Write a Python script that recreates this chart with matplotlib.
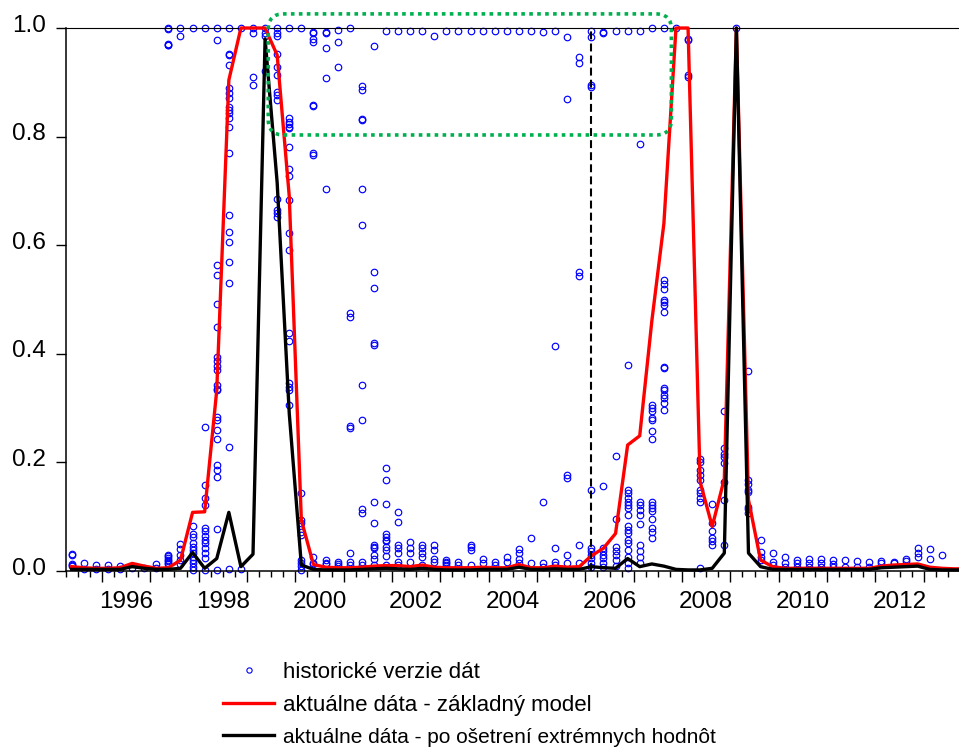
import numpy as np
import pandas as pd
import matplotlib
matplotlib.use('Agg')
import matplotlib.pyplot as plt
import matplotlib.transforms as mtrans
from matplotlib.lines import Line2D
from matplotlib.patches import FancyBboxPatch

plt.rcParams['font.family'] = ['Liberation Sans', 'DejaVu Sans']

# quarterly observations 1995Q2 .. 2013Q4
quarters = pd.period_range('1995Q2', '2013Q4', freq='Q')

# aktualne data - zakladny model
red_vals = [
    0.008, 0.006, 0.005,                      # 1995
    0.005, 0.006, 0.014, 0.009,               # 1996
    0.005, 0.006, 0.020, 0.108,               # 1997
    0.109, 0.333, 0.904, 1.000,               # 1998
    1.000, 1.000, 0.950, 0.690,               # 1999
    0.094, 0.012, 0.007, 0.006,               # 2000
    0.006, 0.007, 0.009, 0.010,               # 2001
    0.010, 0.008, 0.011, 0.007,               # 2002
    0.006, 0.006, 0.006, 0.007,               # 2003
    0.006, 0.006, 0.012, 0.006,               # 2004
    0.006, 0.009, 0.007, 0.008,               # 2005
    0.028, 0.042, 0.069, 0.232,               # 2006
    0.249, 0.460, 0.640, 1.000,               # 2007
    1.000, 0.164, 0.082, 0.170,               # 2008
    1.000, 0.131, 0.020, 0.008,               # 2009
    0.005, 0.005, 0.005, 0.005,               # 2010
    0.005, 0.005, 0.005, 0.005,               # 2011
    0.009, 0.011, 0.012, 0.013,               # 2012
    0.007, 0.005, 0.004, 0.004,               # 2013
]

# aktualne data - po osetreni extremnych hodnot
black_vals = [
    0.003, 0.003, 0.003,
    0.003, 0.003, 0.008, 0.005,
    0.003, 0.003, 0.005, 0.034,
    0.005, 0.023, 0.108, 0.008,
    0.031, 0.980, 0.715, 0.290,
    0.011, 0.003, 0.002, 0.002,
    0.002, 0.003, 0.004, 0.005,
    0.004, 0.003, 0.005, 0.003,
    0.002, 0.002, 0.002, 0.003,
    0.003, 0.003, 0.007, 0.003,
    0.003, 0.004, 0.003, 0.003,
    0.008, 0.006, 0.005, 0.023,
    0.008, 0.013, 0.009, 0.003,
    0.002, 0.002, 0.005, 0.033,
    1.000, 0.033, 0.008, 0.003,
    0.003, 0.003, 0.003, 0.003,
    0.003, 0.003, 0.003, 0.003,
    0.006, 0.007, 0.008, 0.009,
    0.003, 0.002, 0.002, 0.002,
]

# historicke verzie dat (one list per quarter)
hist_vals = [
    [0.029, 0.031, 0.011, 0.012, 0.009],
    [0.014, 0.004],
    [0.011, 0.004],
    [0.011, 0.004],
    [0.009, 0.004],
    [0.006],
    [0.006],
    [0.013, 0.006],
    [1.0, 0.999, 0.969, 0.968, 0.970, 0.030, 0.027, 0.024, 0.021, 0.018, 0.015, 0.012],
    [1.0, 0.986, 0.050, 0.040, 0.030, 0.020, 0.012],
    [1.0, 0.082, 0.069, 0.063, 0.051, 0.045, 0.039, 0.033, 0.026, 0.020, 0.014, 0.008, 0.002],
    [1.0, 0.265, 0.158, 0.134, 0.122, 0.079, 0.073, 0.064, 0.058, 0.052, 0.043, 0.033, 0.024, 0.002],
    [1.0, 0.978, 0.564, 0.545, 0.492, 0.450, 0.395, 0.387, 0.378, 0.370, 0.342, 0.335, 0.334,
     0.284, 0.278, 0.260, 0.244, 0.195, 0.186, 0.174, 0.077, 0.002],
    [1.0, 0.953, 0.950, 0.931, 0.889, 0.880, 0.871, 0.855, 0.849, 0.843, 0.834, 0.818, 0.769,
     0.656, 0.625, 0.606, 0.570, 0.530, 0.228, 0.004],
    [1.0, 0.003],
    [1.0, 0.990, 0.909, 0.895],
    [1.0, 0.990, 0.986, 0.921],
    [1.0, 0.990, 0.986, 0.953, 0.929, 0.913, 0.883, 0.877, 0.867, 0.686, 0.665, 0.659, 0.652],
    [1.0, 0.834, 0.827, 0.823, 0.818, 0.815, 0.781, 0.740, 0.728, 0.683, 0.623, 0.591, 0.438,
     0.424, 0.346, 0.338, 0.333, 0.306],
    [1.0, 0.143, 0.094, 0.088, 0.072, 0.066, 0.020, 0.015, 0.010, 0.002],
    [0.993, 0.990, 0.979, 0.975, 0.859, 0.857, 0.769, 0.767, 0.025, 0.015, 0.013],
    [0.993, 0.990, 0.964, 0.908, 0.703, 0.020, 0.014, 0.012],
    [0.996, 0.975, 0.928, 0.016, 0.012, 0.010],
    [1.0, 0.475, 0.467, 0.267, 0.264, 0.033, 0.017, 0.011],
    [0.894, 0.886, 0.832, 0.830, 0.704, 0.638, 0.343, 0.279, 0.114, 0.106, 0.017, 0.011],
    [0.966, 0.551, 0.522, 0.419, 0.417, 0.128, 0.089, 0.048, 0.045, 0.042, 0.029, 0.023, 0.011],
    [0.995, 0.189, 0.168, 0.123, 0.069, 0.063, 0.057, 0.055, 0.044, 0.039, 0.027, 0.011],
    [0.995, 0.109, 0.091, 0.048, 0.042, 0.033, 0.017, 0.011],
    [0.995, 0.054, 0.042, 0.033, 0.017],
    [0.995, 0.048, 0.042, 0.033, 0.026, 0.011],
    [0.986, 0.048, 0.039, 0.023, 0.017],
    [0.995, 0.021, 0.017, 0.014, 0.011],
    [0.995, 0.017, 0.011],
    [0.995, 0.048, 0.045, 0.039, 0.011],
    [0.995, 0.022, 0.014],
    [0.995, 0.017, 0.011],
    [0.995, 0.026, 0.017],
    [0.995, 0.040, 0.034, 0.023, 0.014],
    [0.995, 0.060, 0.014],
    [0.993, 0.128, 0.014, 0.008],
    [0.995, 0.415, 0.042, 0.017, 0.011],
    [0.984, 0.869, 0.177, 0.171, 0.030, 0.014],
    [0.946, 0.936, 0.551, 0.543, 0.048, 0.014],
    [0.995, 0.984, 0.895, 0.892, 0.150, 0.042, 0.036, 0.030, 0.024, 0.014, 0.008],
    [0.993, 0.990, 0.157, 0.042, 0.036, 0.030, 0.024, 0.014, 0.008],
    [0.995, 0.212, 0.095, 0.045, 0.036, 0.030, 0.020, 0.010],
    [0.995, 0.379, 0.149, 0.143, 0.134, 0.128, 0.122, 0.116, 0.103, 0.082, 0.076, 0.070,
     0.057, 0.051, 0.039, 0.026, 0.014, 0.005],
    [0.995, 0.786, 0.128, 0.122, 0.113, 0.104, 0.086, 0.048, 0.036, 0.026, 0.014],
    [1.0, 0.306, 0.300, 0.294, 0.282, 0.279, 0.258, 0.244, 0.128, 0.122, 0.116, 0.110, 0.095,
     0.080, 0.071, 0.061],
    [1.0, 0.536, 0.528, 0.520, 0.500, 0.495, 0.490, 0.477, 0.376, 0.374, 0.337, 0.334, 0.325,
     0.319, 0.310, 0.297],
    [1.0],
    [0.980, 0.978, 0.913, 0.910],
    [0.207, 0.201, 0.186, 0.176, 0.167, 0.149, 0.143, 0.134, 0.128, 0.006],
    [0.123, 0.088, 0.073, 0.061, 0.055, 0.048],
    [0.295, 0.226, 0.216, 0.210, 0.198, 0.164, 0.131, 0.048],
    [1.0],
    [0.369, 0.168, 0.160, 0.150, 0.146, 0.118, 0.114, 0.106],
    [0.058, 0.035, 0.026, 0.020],
    [0.034, 0.017, 0.011],
    [0.026, 0.014, 0.008],
    [0.021, 0.014, 0.008],
    [0.023, 0.014, 0.008],
    [0.023, 0.014, 0.008],
    [0.021, 0.012, 0.008],
    [0.021, 0.008],
    [0.019, 0.008],
    [0.016, 0.008],
    [0.019, 0.014],
    [0.017, 0.014],
    [0.023, 0.019],
    [0.042, 0.034, 0.026],
    [0.040, 0.022],
    [0.030],
    [],
    [],
]

label_years = [1996, 1998, 2000, 2002, 2004, 2006, 2008, 2010, 2012]
vline_quarter = '2006Q1'
# highlighted region (years, share)
box_x = (1999.44, 2007.78)
box_y = (0.803, 1.026)

legend_labels = ['historické verzie dát',
                 'aktuálne dáta - základný model',
                 'aktuálne dáta - po ošetrení extrémnych hodnôt']

# observations sit in the middle of their quarter
x = np.asarray(quarters.year + (quarters.quarter - 1) / 4 + 0.125, dtype=float)

fig = plt.figure(figsize=(9.59, 7.47), dpi=100)
ax = fig.add_axes([0.0685, 0.2356, 0.9315, 0.7269])
x0, x1 = 1995.25, 2013.73
ax.set_xlim(x0, x1)
ax.set_ylim(0, 1)

hx = np.concatenate([[xi] * len(v) for xi, v in zip(x, hist_vals)])
hy = np.concatenate([v for v in hist_vals if v])
ax.plot(hx, hy, 'o', ls='none', mfc='none', mec='#0000FF', ms=4.7, mew=0.85,
        clip_on=False, zorder=2)
ax.plot(x, red_vals, color='#FF0000', lw=2.4, zorder=3, clip_on=False)
ax.plot(x, black_vals, color='black', lw=2.4, zorder=4, clip_on=False)

xv = x[list(quarters).index(pd.Period(vline_quarter, freq='Q'))]
ax.axvline(xv, color='black', lw=1.5, ls=(0, (3.8, 2.0)), zorder=4)

# rounded dotted box, corner radius equal in both directions
fig.canvas.draw()
bb = ax.get_window_extent()
px_x = bb.width / (x1 - x0)
px_y = bb.height / 1.0
box = FancyBboxPatch((box_x[0], box_y[0]), box_x[1] - box_x[0], box_y[1] - box_y[0],
                     boxstyle='round,pad=0,rounding_size=0.32',
                     mutation_aspect=px_x / px_y, fill=False, ec='#00B050',
                     lw=2.6, ls=(0, (1.0, 1.2)), capstyle='butt',
                     clip_on=False, zorder=5, transform=ax.transData)
ax.add_patch(box)

# ticks: year ticks tall, quarter ticks short, labels in the middle of even years
ax.set_xticks(np.arange(1996, 2014))
ax.set_xticklabels([''] * len(np.arange(1996, 2014)))
minor = [y + f for y in range(1995, 2014) for f in (0.25, 0.5, 0.75) if x0 <= y + f <= x1]
ax.set_xticks(minor, minor=True)
ax.set_xticklabels([str(int(m)) if (m % 1 == 0.5 and int(m) in label_years) else ''
                    for m in minor], minor=True, fontsize=17.5)
ax.tick_params(axis='x', which='major', direction='out', length=8, width=1.0)
ax.tick_params(axis='x', which='minor', direction='out', length=4.3, width=1.0, pad=10)

ax.set_yticks(np.arange(0, 1.01, 0.2))
ax.set_yticklabels([f'{v:.1f}' for v in np.arange(0, 1.01, 0.2)], fontsize=17.5)
ax.tick_params(axis='y', direction='out', length=7, width=1.0, pad=7)
shift = mtrans.ScaledTranslation(0, 0.05, fig.dpi_scale_trans)
for lab in ax.get_yticklabels():
    lab.set_transform(lab.get_transform() + shift)

ax.spines['right'].set_visible(False)
ax.spines['left'].set_linewidth(1.1)
ax.spines['bottom'].set_linewidth(1.1)
ax.spines['top'].set_linewidth(0.8)

handles = [
    Line2D([], [], ls='none', marker='o', mfc='none', mec='#0000FF', ms=3.8, mew=0.8),
    Line2D([], [], color='#FF0000', lw=2.4),
    Line2D([], [], color='black', lw=2.4),
]
leg = fig.legend(handles, legend_labels, loc='upper left',
                 bbox_to_anchor=(223 / 959, 1 - 662 / 747),
                 frameon=False, fontsize=16, handlelength=2.3, handletextpad=0.4,
                 labelspacing=0.52, borderpad=0, borderaxespad=0)
leg.get_texts()[2].set_fontsize(15)

fig.savefig('out.png', dpi=100)
